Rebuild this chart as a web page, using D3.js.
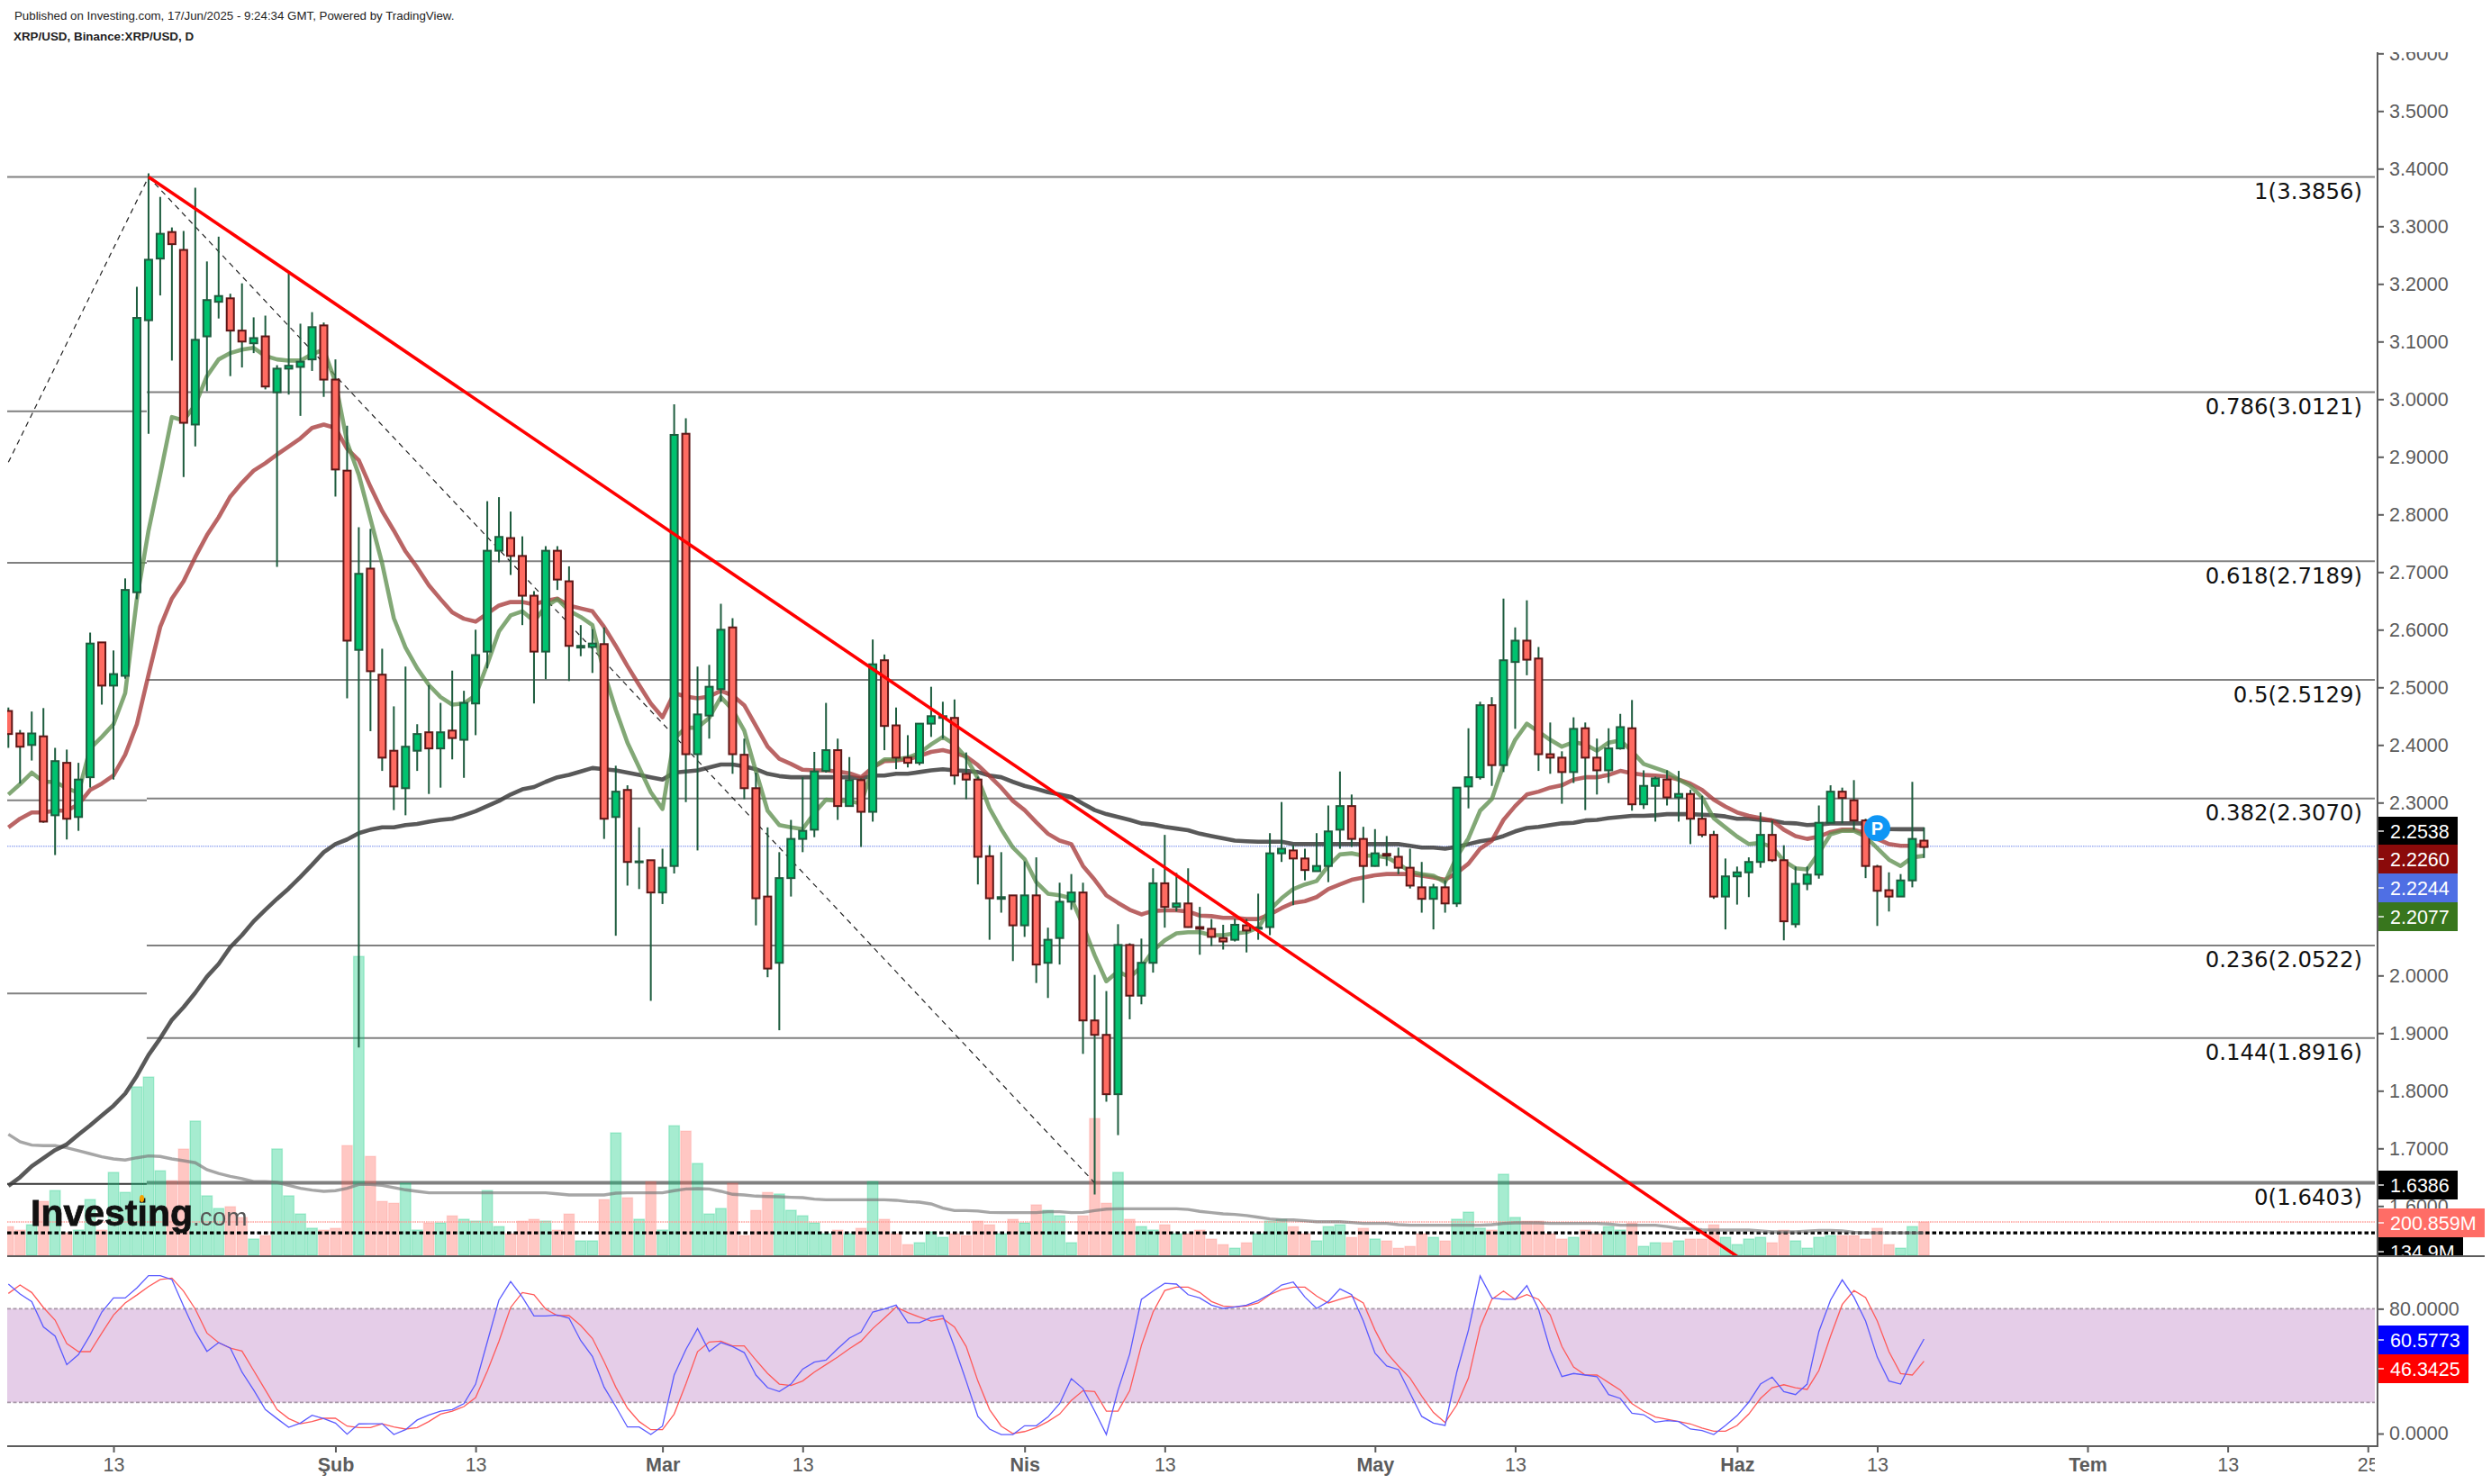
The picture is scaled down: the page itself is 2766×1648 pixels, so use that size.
<!DOCTYPE html>
<html>
<head>
<meta charset="utf-8">
<script src="https://cdn.jsdelivr.net/npm/d3@7"></script>
<style>
  body { margin: 0; background: #fff; }
  svg { display: block; font-family: "Liberation Sans", Arial, sans-serif; }
</style>
</head>
<body>
<div id="chart"></div>
<script>
const opens = [2.459,2.420,2.400,2.415,2.278,2.369,2.275,2.344,2.578,2.503,
  2.520,2.665,3.137,3.244,3.290,3.259,2.956,3.109,3.169,3.175,
  3.119,3.097,3.109,3.012,3.053,3.056,3.069,3.128,3.034,2.876,
  2.565,2.706,2.522,2.390,2.325,2.390,2.422,2.394,2.425,2.409,
  2.472,2.562,2.737,2.759,2.728,2.659,2.562,2.737,2.684,2.569,
  2.570,2.575,2.275,2.322,2.197,2.200,2.144,2.190,2.940,2.384,
  2.451,2.497,2.604,2.383,2.325,2.137,2.022,2.169,2.237,2.253,
  2.355,2.391,2.294,2.339,2.284,2.547,2.434,2.378,2.369,2.437,
  2.447,2.447,2.350,2.340,2.207,2.133,2.139,2.087,2.139,2.022,
  2.065,2.128,2.144,1.922,1.897,1.794,2.053,1.965,2.022,2.160,
  2.119,2.125,2.084,2.081,2.065,2.062,2.087,2.081,2.084,2.212,
  2.217,2.203,2.181,2.190,2.253,2.294,2.237,2.190,2.211,2.206,
  2.187,2.153,2.133,2.153,2.125,2.328,2.344,2.469,2.365,2.544,
  2.581,2.550,2.384,2.378,2.353,2.429,2.378,2.356,2.394,2.429,
  2.297,2.329,2.340,2.309,2.315,2.272,2.244,2.137,2.172,2.179,
  2.197,2.244,2.200,2.089,2.159,2.175,2.265,2.319,2.304,2.269,
  2.189,2.148,2.137,2.165,2.234];
const highs = [2.465,2.426,2.458,2.464,2.395,2.392,2.369,2.595,2.578,2.564,
  2.689,3.195,3.392,3.351,3.298,3.292,3.367,3.239,3.282,3.183,
  3.201,3.142,3.145,3.059,3.218,3.131,3.151,3.133,3.069,2.954,
  2.778,2.775,2.567,2.467,2.536,2.436,2.504,2.473,2.529,2.494,
  2.600,2.823,2.830,2.805,2.762,2.667,2.745,2.745,2.710,2.608,
  2.601,2.604,2.364,2.330,2.257,2.200,2.220,2.991,2.967,2.536,
  2.539,2.645,2.620,2.411,2.352,2.257,2.214,2.270,2.344,2.388,
  2.473,2.411,2.379,2.342,2.583,2.557,2.465,2.417,2.437,2.501,
  2.475,2.479,2.387,2.345,2.226,2.214,2.139,2.198,2.205,2.083,
  2.161,2.176,2.161,2.001,1.973,2.089,2.056,2.064,2.186,2.244,
  2.178,2.186,2.119,2.098,2.088,2.098,2.098,2.142,2.247,2.301,
  2.226,2.220,2.247,2.295,2.354,2.314,2.258,2.254,2.242,2.222,
  2.220,2.197,2.159,2.165,2.326,2.429,2.475,2.483,2.654,2.604,
  2.651,2.570,2.439,2.389,2.448,2.439,2.411,2.429,2.454,2.478,
  2.356,2.345,2.356,2.355,2.322,2.312,2.251,2.203,2.189,2.205,
  2.283,2.269,2.226,2.189,2.189,2.295,2.330,2.326,2.339,2.272,
  2.192,2.179,2.176,2.336,2.257];
const lows = [2.395,2.333,2.373,2.265,2.209,2.236,2.251,2.326,2.470,2.340,
  2.515,2.653,2.940,3.180,3.067,2.865,2.918,3.014,3.140,3.040,
  3.055,3.080,3.017,2.709,3.008,2.971,3.049,3.004,2.831,2.481,
  1.875,2.424,2.355,2.287,2.278,2.355,2.315,2.326,2.375,2.343,
  2.417,2.533,2.717,2.695,2.608,2.472,2.514,2.669,2.511,2.554,
  2.525,2.237,2.069,2.156,2.150,1.956,2.124,2.177,2.301,2.217,
  2.411,2.475,2.350,2.306,2.087,1.997,1.905,2.137,2.214,2.240,
  2.352,2.270,2.294,2.223,2.267,2.391,2.358,2.361,2.365,2.414,
  2.411,2.331,2.306,2.158,2.062,2.109,2.025,2.067,1.987,1.961,
  2.019,2.114,1.864,1.620,1.781,1.723,1.924,1.950,2.005,2.083,
  2.111,2.083,2.036,2.051,2.045,2.059,2.040,2.062,2.070,2.197,
  2.122,2.165,2.183,2.162,2.220,2.223,2.126,2.189,2.190,2.176,
  2.151,2.109,2.080,2.109,2.119,2.290,2.340,2.329,2.353,2.428,
  2.521,2.355,2.350,2.298,2.334,2.287,2.314,2.334,2.392,2.286,
  2.289,2.267,2.295,2.267,2.228,2.240,2.133,2.080,2.123,2.136,
  2.187,2.197,2.061,2.083,2.148,2.168,2.264,2.264,2.253,2.169,
  2.086,2.111,2.137,2.153,2.204];
const closes = [2.419,2.397,2.420,2.267,2.372,2.272,2.340,2.576,2.503,2.523,
  2.669,3.141,3.242,3.287,3.269,2.959,3.103,3.172,3.179,3.119,
  3.100,3.106,3.022,3.053,3.058,3.065,3.125,3.034,2.878,2.581,
  2.697,2.528,2.378,2.328,2.397,2.419,2.394,2.422,2.412,2.473,
  2.556,2.737,2.761,2.728,2.659,2.562,2.737,2.687,2.572,2.572,
  2.576,2.272,2.319,2.197,2.198,2.144,2.187,2.938,2.384,2.453,
  2.501,2.600,2.384,2.325,2.134,2.012,2.169,2.237,2.251,2.354,
  2.391,2.294,2.339,2.284,2.540,2.433,2.378,2.369,2.437,2.450,
  2.450,2.347,2.340,2.206,2.134,2.136,2.087,2.139,2.019,2.062,
  2.128,2.144,1.922,1.897,1.794,2.053,1.965,2.022,2.160,2.119,
  2.125,2.084,2.081,2.067,2.059,2.088,2.078,2.083,2.212,2.220,
  2.203,2.183,2.190,2.250,2.294,2.237,2.190,2.212,2.208,2.187,
  2.156,2.133,2.153,2.125,2.326,2.344,2.469,2.365,2.547,2.581,
  2.548,2.384,2.378,2.353,2.428,2.378,2.356,2.394,2.431,2.297,
  2.329,2.342,2.309,2.315,2.272,2.244,2.137,2.172,2.179,2.197,
  2.244,2.200,2.094,2.159,2.175,2.265,2.319,2.308,2.269,2.190,
  2.147,2.137,2.165,2.237,2.223];

const maFast = [2.314,2.332,2.352,2.336,2.336,2.325,2.317,2.394,2.414,2.436,
  2.490,2.653,2.772,2.869,2.969,2.963,2.990,3.040,3.069,3.080,
  3.086,3.089,3.075,3.069,3.067,3.067,3.078,3.086,3.030,2.925,
  2.869,2.792,2.715,2.620,2.569,2.533,2.504,2.483,2.470,2.472,
  2.486,2.540,2.597,2.625,2.632,2.615,2.640,2.653,2.633,2.622,
  2.608,2.526,2.461,2.404,2.361,2.318,2.289,2.411,2.430,2.430,
  2.447,2.483,2.461,2.425,2.354,2.286,2.261,2.257,2.254,2.282,
  2.305,2.303,2.303,2.298,2.361,2.375,2.375,2.378,2.386,2.401,
  2.414,2.401,2.378,2.342,2.290,2.254,2.222,2.202,2.162,2.142,
  2.139,2.134,2.087,2.035,1.990,2.007,1.997,2.015,2.043,2.061,
  2.073,2.075,2.075,2.070,2.070,2.073,2.075,2.083,2.114,2.134,
  2.150,2.158,2.164,2.190,2.210,2.212,2.208,2.208,2.205,2.194,
  2.180,2.176,2.173,2.162,2.206,2.238,2.286,2.306,2.365,2.409,
  2.437,2.423,2.409,2.397,2.405,2.401,2.390,2.404,2.408,2.389,
  2.367,2.360,2.353,2.340,2.329,2.309,2.273,2.257,2.241,2.228,
  2.230,2.223,2.199,2.186,2.184,2.213,2.245,2.251,2.251,2.241,
  2.221,2.201,2.190,2.205,2.2077];
const maMid = [2.257,2.272,2.283,2.283,2.286,2.286,2.297,2.322,2.333,2.347,
  2.383,2.436,2.522,2.605,2.654,2.684,2.726,2.764,2.795,2.831,
  2.855,2.876,2.889,2.904,2.918,2.932,2.950,2.956,2.950,2.914,
  2.894,2.848,2.806,2.772,2.736,2.708,2.677,2.653,2.630,2.619,
  2.614,2.628,2.642,2.648,2.648,2.644,2.650,2.654,2.642,2.637,
  2.632,2.605,2.572,2.537,2.504,2.472,2.448,2.490,2.484,2.481,
  2.484,2.494,2.486,2.469,2.433,2.397,2.376,2.367,2.357,2.356,
  2.356,2.354,2.351,2.344,2.361,2.372,2.373,2.375,2.381,2.388,
  2.391,2.386,2.380,2.365,2.346,2.326,2.303,2.287,2.266,2.246,
  2.234,2.228,2.190,2.166,2.139,2.126,2.114,2.106,2.112,2.113,
  2.113,2.111,2.104,2.103,2.100,2.100,2.098,2.098,2.106,2.117,
  2.126,2.129,2.136,2.150,2.158,2.166,2.170,2.174,2.176,2.176,
  2.176,2.173,2.170,2.166,2.178,2.194,2.220,2.234,2.270,2.294,
  2.314,2.319,2.326,2.330,2.340,2.344,2.344,2.348,2.355,2.351,
  2.348,2.347,2.345,2.340,2.333,2.322,2.305,2.293,2.283,2.277,
  2.273,2.269,2.253,2.242,2.237,2.241,2.249,2.253,2.253,2.247,
  2.237,2.228,2.225,2.225,2.226];
const maSlow = [1.635,1.650,1.669,1.683,1.697,1.707,1.724,1.740,1.757,1.774,
  1.795,1.826,1.862,1.891,1.923,1.945,1.970,1.998,2.020,2.049,
  2.070,2.094,2.114,2.133,2.151,2.171,2.192,2.214,2.228,2.236,
  2.247,2.253,2.257,2.257,2.261,2.263,2.267,2.270,2.272,2.278,
  2.285,2.294,2.303,2.314,2.323,2.327,2.336,2.344,2.348,2.354,
  2.360,2.358,2.356,2.352,2.348,2.344,2.340,2.352,2.354,2.356,
  2.361,2.366,2.366,2.363,2.358,2.350,2.346,2.344,2.344,2.344,
  2.344,2.344,2.344,2.342,2.347,2.347,2.350,2.350,2.353,2.356,
  2.358,2.356,2.355,2.353,2.347,2.344,2.336,2.329,2.324,2.318,
  2.314,2.310,2.298,2.287,2.280,2.275,2.270,2.264,2.262,2.258,
  2.255,2.252,2.246,2.242,2.238,2.234,2.233,2.232,2.232,2.232,
  2.228,2.228,2.228,2.228,2.228,2.228,2.228,2.228,2.228,2.228,
  2.225,2.222,2.222,2.220,2.223,2.228,2.233,2.236,2.242,2.250,
  2.256,2.258,2.261,2.264,2.265,2.269,2.270,2.273,2.275,2.277,
  2.277,2.278,2.280,2.280,2.280,2.279,2.278,2.276,2.272,2.272,
  2.270,2.269,2.265,2.264,2.261,2.262,2.264,2.264,2.264,2.264,
  2.259,2.254,2.2538,2.2538,2.2538];

// volume, millions
const volumes = [173,152,184,325,390,136,152,336,152,499,
  379,1014,1073,509,450,640,808,358,282,293,
  228,98,119,640,358,249,163,152,163,661,
  1799,596,325,314,434,152,195,195,238,217,
  206,390,173,130,206,217,206,152,249,87,
  87,336,737,347,217,444,152,780,748,553,
  249,282,434,119,271,379,369,271,238,195,
  130,152,130,163,444,217,130,65,76,141,
  108,130,119,206,184,130,217,195,304,271,
  238,76,238,824,314,499,217,173,152,184,
  130,130,152,98,65,43,76,130,206,217,
  173,130,87,173,184,108,163,98,87,43,
  54,130,108,87,217,260,163,152,488,228,
  206,206,130,98,108,152,130,173,152,195,
  54,76,76,87,98,98,184,108,65,98,
  108,76,152,87,43,108,119,119,119,98,
  163,65,43,173,200.859];
const volumeAvg = [728,683,663,660,660,647,629,611,593,580,
  573,587,598,595,580,569,557,515,493,475,
  461,443,443,439,421,403,392,385,389,403,
  426,426,421,407,394,385,376,376,376,376,
  376,376,376,376,376,376,376,370,363,363,
  363,363,374,376,376,376,376,389,399,401,
  399,385,367,363,356,354,352,349,347,338,
  334,334,334,334,334,334,331,323,320,309,
  284,269,269,266,258,257,257,257,257,262,
  262,257,258,269,278,280,280,280,280,280,
  280,276,264,257,249,246,239,229,219,213,
  213,208,202,202,202,197,192,192,192,184,
  181,181,181,181,181,181,181,184,192,195,
  195,195,192,192,192,192,192,188,181,181,
  181,181,173,161,159,154,152,152,152,152,
  146,141,141,141,145,150,150,146,139,135,
  135,135,135,135,134.9];

const stochK = [95.8,89.4,84.6,68.3,62.5,44.2,50.6,63.1,77.9,86.9,
  86.9,93.3,101.2,101.2,98.7,81.7,65.4,52.7,58.3,54.8,
  39.4,27.9,15.4,9.6,4.0,6.7,11.7,9.6,6.7,-0.4,
  6.2,6.3,6.3,-0.6,2.5,8.7,11.9,14.4,15.4,19.2,
  31.7,58.7,85.6,97.5,87.5,75.4,75.4,76.0,74.0,59.6,
  49.4,29.8,17.3,4.2,4.2,-0.6,4.8,37.5,53.8,67.3,
  52.7,58.3,55.8,51.9,37.5,29.4,26.9,31.7,41.3,45.8,
  47.1,54.4,61.2,65.0,77.9,79.8,82.3,71.0,71.0,74.4,
  75.6,55.4,33.7,11.0,2.9,-0.6,-0.6,5.0,5.0,10.6,
  19.2,35.2,28.8,14.4,-0.6,27.9,51.0,86.0,91.3,96.3,
  95.8,89.0,86.9,82.3,80.2,81.2,82.3,85.2,89.4,95.2,
  97.1,87.5,80.2,84.6,92.7,89.0,72.1,51.5,43.3,41.0,
  26.0,11.0,6.7,5.2,39.4,66.3,101.0,86.9,86.0,86.0,
  94.8,79.8,53.8,36.5,38.5,37.5,36.5,25.0,22.5,13.1,
  12.1,7.3,8.3,7.7,2.9,1.9,-0.6,5.2,11.5,20.2,
  31.7,36.2,26.9,25.0,31.7,65.4,85.6,98.5,87.5,72.1,
  49.0,33.7,31.7,47.1,60.5773];
const stochD = [89.8,95.2,90.4,80.8,72.7,57.7,52.5,52.5,64.4,76.0,
  83.7,88.8,94.2,98.7,99.6,91.3,79.8,64.4,58.3,54.8,
  52.9,40.4,27.9,15.4,9.6,6.3,7.7,9.8,9.8,4.8,
  3.8,3.8,6.3,4.2,2.9,3.8,7.7,12.5,14.4,17.3,
  23.1,40.0,59.2,80.8,90.4,89.0,79.8,75.6,75.6,69.2,
  61.0,46.2,29.8,16.3,7.7,2.5,2.5,12.5,31.7,52.5,
  58.7,59.2,56.2,56.2,47.1,38.5,31.7,30.8,33.7,39.4,
  44.2,49.0,54.4,59.2,67.3,74.0,81.0,77.5,74.6,72.1,
  73.7,68.3,55.8,33.7,15.4,4.8,0,1.3,3.8,7.7,
  12.5,21.2,27.5,26.9,14.4,14.4,27.5,56.5,77.9,91.7,
  93.8,93.8,90.4,84.6,81.7,81.2,81.7,83.7,89.0,92.3,
  93.8,93.8,88.1,83.7,86.0,88.1,83.7,66.3,51.9,43.3,
  35.6,24.0,13.5,7.1,18.3,35.6,68.3,86.0,91.3,86.0,
  89.0,86.0,76.0,55.8,42.7,37.5,37.5,32.7,27.9,19.2,
  14.4,10.6,9.2,7.7,6.2,3.5,1.5,1.5,5.2,12.5,
  22.5,29.4,31.3,29.4,28.3,40.4,62.5,82.7,91.7,87.1,
  72.1,52.5,38.5,37.5,46.3425];

const fibRatios = ['1', '0.786', '0.618', '0.5', '0.382', '0.236', '0.144', '0'];
const fibPrices = [3.3856, 3.0121, 2.7189, 2.5129, 2.3070, 2.0522, 1.8916, 1.6403];
const priorFibPrices = [2.979, 2.716, 2.304, 1.969];
const priorFibBase = 1.6385;

const priceTicks = d3.range(16, 37).map(v => v / 10);
const stochTicks = [0, 80];
const timeTickDates = ['2025-01-13','2025-02-01','2025-02-13','2025-03-01','2025-03-13','2025-04-01',
  '2025-04-13','2025-05-01','2025-05-13','2025-06-01','2025-06-13','2025-07-01','2025-07-13','2025-07-25'];
const timeTickLabels = ['13','Şub','13','Mar','13','Nis','13','May','13','Haz','13','Tem','13','25'];
const monthLabels = ['Şub','Mar','Nis','May','Haz','Tem'];

const firstDay = new Date(Date.UTC(2025, 0, 4));
const lastDay = new Date(Date.UTC(2025, 5, 17));
const peakDay = new Date(Date.UTC(2025, 0, 16));
const peakPrice = 3.3856;
const fibLeftDay = firstDay, fibLeftPrice = 2.8906;
const fibLowDay = new Date(Date.UTC(2025, 3, 7)), fibLowPrice = 1.6403;
const trendEndDay = new Date(Date.UTC(2025, 5, 1)), trendEndPrice = 1.5127;
const lastPriceLine = 2.2244, volumeLastLine = 200.859, volumeAvgLine = 134.9;
const pivotDay = new Date(Date.UTC(2025, 5, 13)), pivotPrice = 2.2555;

const width = 2766, height = 1648;
const plotLeft = 8, plotRight = 2637, axisX = 2640;
const paneTop = 58, paneBottom = 1395, timeY = 1606;

const candles = opens.map((o, i) => ({
  date: d3.utcDay.offset(firstDay, i), open: o, high: highs[i], low: lows[i], close: closes[i],
  volume: volumes[i], up: closes[i] >= o
}));

const x = d3.scaleUtc().domain([firstDay, lastDay]).range([9.3, 2136.4]);
const y = d3.scaleLinear().domain([1.6, 3.6]).range([1339.3, 59.3]);
const yVol = d3.scaleLinear().domain([0, 1800]).range([1394, 1394 - 332.1]);
const yStoch = d3.scaleLinear().domain([0, 100]).range([1592, 1418.7]);

const svg = d3.select('#chart').append('svg')
  .attr('width', width).attr('height', height).attr('viewBox', `0 0 ${width} ${height}`);

const defs = svg.append('defs');
defs.append('clipPath').attr('id', 'pane').append('rect')
  .attr('x', plotLeft).attr('y', paneTop).attr('width', plotRight - plotLeft).attr('height', paneBottom - paneTop);
defs.append('clipPath').attr('id', 'time').append('rect')
  .attr('x', 0).attr('y', timeY).attr('width', plotRight).attr('height', height - timeY);
defs.append('clipPath').attr('id', 'scale').append('rect')
  .attr('x', axisX - 2).attr('y', paneTop).attr('width', width - axisX + 2).attr('height', paneBottom - paneTop);

svg.append('text').attr('x', 16).attr('y', 22).attr('font-size', 13.3).attr('fill', '#222')
  .text('Published on Investing.com, 17/Jun/2025 - 9:24:34 GMT, Powered by TradingView.');
svg.append('text').attr('x', 15).attr('y', 45).attr('font-size', 13.4).attr('font-weight', 'bold').attr('fill', '#222')
  .text('XRP/USD, Binance:XRP/USD, D');

const pane = svg.append('g').attr('clip-path', 'url(#pane)');

// fib lines
const fibStart = x(peakDay) - 2;
pane.selectAll('.prior').data(priorFibPrices).join('line')
  .attr('x1', plotLeft).attr('x2', fibStart).attr('y1', d => y(d)).attr('y2', d => y(d))
  .attr('stroke', '#808080').attr('stroke-width', 2);
pane.append('line').attr('x1', plotLeft).attr('x2', fibStart).attr('y1', y(priorFibBase)).attr('y2', y(priorFibBase))
  .attr('stroke', '#333').attr('stroke-width', 2);
pane.selectAll('.fib').data(fibPrices).join('line')
  .attr('x1', (d, i) => i === 0 ? plotLeft : fibStart).attr('x2', plotRight)
  .attr('y1', d => y(d)).attr('y2', d => y(d))
  .attr('stroke', '#808080').attr('stroke-width', (d, i) => i === fibPrices.length - 1 ? 4 : 2);

pane.append('line').attr('x1', plotLeft).attr('x2', plotRight)
  .attr('y1', y(lastPriceLine)).attr('y2', y(lastPriceLine))
  .attr('stroke', '#9fb0f2').attr('stroke-width', 1.5).attr('stroke-dasharray', '1.5 1');

// volume
pane.selectAll('.vol').data(candles).join('rect')
  .attr('x', d => x(d.date) - 5.8).attr('width', 11.6)
  .attr('y', d => yVol(d.volume)).attr('height', d => yVol(0) - yVol(d.volume))
  .attr('fill', d => d.up ? 'rgba(0,200,120,0.35)' : 'rgba(255,90,80,0.34)')
  .attr('stroke', d => d.up ? 'rgba(0,200,120,0.25)' : 'rgba(255,90,80,0.15)')
  .attr('stroke-width', 1.4);
pane.append('line').attr('x1', plotLeft).attr('x2', plotRight)
  .attr('y1', yVol(volumeLastLine)).attr('y2', yVol(volumeLastLine))
  .attr('stroke', '#ff9d98').attr('stroke-width', 1.5).attr('stroke-dasharray', '1.5 1');
pane.append('line').attr('x1', plotLeft).attr('x2', plotRight)
  .attr('y1', yVol(volumeAvgLine)).attr('y2', yVol(volumeAvgLine))
  .attr('stroke', '#000').attr('stroke-width', 3.4).attr('stroke-dasharray', '4.5 3');

const lineFor = scale => d3.line().x((d, i) => x(candles[i].date)).y(d => scale(d));
pane.append('path').datum(volumeAvg).attr('d', lineFor(yVol)).attr('fill', 'none')
  .attr('stroke', '#777').attr('stroke-width', 3.4).attr('stroke-opacity', 0.65);

// logo
const logo = pane.append('g').style('filter', 'blur(0.6px)');
logo.append('text').attr('x', 34).attr('y', 1361).attr('font-size', 41).attr('font-weight', 'bold')
  .attr('fill', '#111').attr('stroke', '#111').attr('stroke-width', 0.8).text('Investing');
logo.append('text').attr('x', 214).attr('y', 1361).attr('font-size', 28).attr('fill', '#555').text('.com');
logo.append('ellipse').attr('cx', 157.5).attr('cy', 1331).attr('rx', 2.5).attr('ry', 4).attr('fill', '#f5a300');

// dashed fib diagonal
pane.append('path')
  .datum([[fibLeftDay, fibLeftPrice], [peakDay, peakPrice], [fibLowDay, fibLowPrice]])
  .attr('d', d3.line().x(d => x(d[0])).y(d => y(d[1])))
  .attr('fill', 'none').attr('stroke', '#222').attr('stroke-width', 1.2).attr('stroke-dasharray', '6 5');

[[maSlow, '#3c3c3c', 4.6, 0.85], [maMid, '#a63a3a', 4.6, 0.78], [maFast, '#5f9050', 4.6, 0.78]].forEach(([s, c, w, o]) => {
  pane.append('path').datum(s).attr('d', lineFor(y)).attr('fill', 'none')
    .attr('stroke', c).attr('stroke-width', w).attr('stroke-opacity', o).attr('stroke-linejoin', 'round');
});

// candles
pane.selectAll('.wick').data(candles).join('line')
  .attr('x1', d => x(d.date)).attr('x2', d => x(d.date))
  .attr('y1', d => y(d.high)).attr('y2', d => y(d.low))
  .attr('stroke', '#1d5c3e').attr('stroke-width', 2);
pane.selectAll('.body').data(candles).join('rect')
  .attr('x', d => x(d.date) - 4).attr('width', 8)
  .attr('y', d => y(Math.max(d.open, d.close)))
  .attr('height', d => Math.max(1, Math.abs(y(d.open) - y(d.close))))
  .attr('fill', d => d.up ? '#00c26f' : '#ff6b61')
  .attr('stroke', d => d.up ? '#1d5c3e' : '#5e1616').attr('stroke-width', 2);

// down trend
pane.append('path').datum([[peakDay, peakPrice], [trendEndDay, trendEndPrice]])
  .attr('d', d3.line().x(d => x(d[0])).y(d => y(d[1])))
  .attr('fill', 'none').attr('stroke', '#ff0000').attr('stroke-width', 3.6);

// pivot marker
const pivot = svg.append('g').attr('transform', `translate(${x(pivotDay)},${y(pivotPrice)})`);
pivot.append('circle').attr('r', 14.5).attr('fill', '#0f96f5');
pivot.append('text').attr('text-anchor', 'middle').attr('dy', '0.36em').attr('font-size', 20)
  .attr('font-weight', 'bold').attr('fill', '#fff').text('P');

// fib labels
svg.selectAll('.fiblabel').data(fibPrices).join('text')
  .attr('x', 2623).attr('y', d => y(d) + 24.5).attr('text-anchor', 'end')
  .style('font-family', '"DejaVu Sans", sans-serif').attr('font-size', 24.4).attr('fill', '#111')
  .text((d, i) => `${fibRatios[i]}(${d.toFixed(4)})`);

// stochastic pane
const stoch = svg.append('g');
stoch.append('rect').attr('x', plotLeft).attr('width', plotRight - plotLeft)
  .attr('y', yStoch(80)).attr('height', yStoch(20) - yStoch(80)).attr('fill', '#e5cde8');
[80, 20].forEach(v => stoch.append('line').attr('x1', plotLeft).attr('x2', plotRight)
  .attr('y1', yStoch(v)).attr('y2', yStoch(v))
  .attr('stroke', '#a898a8').attr('stroke-width', 1.6).attr('stroke-dasharray', '4 2.5'));
stoch.append('path').datum(stochD).attr('d', lineFor(yStoch)).attr('fill', 'none')
  .attr('stroke', '#ff5a5a').attr('stroke-width', 1.3);
stoch.append('path').datum(stochK).attr('d', lineFor(yStoch)).attr('fill', 'none')
  .attr('stroke', '#5a5aff').attr('stroke-width', 1.3);

// axes
const styleAxis = g => {
  g.select('.domain').remove();
  g.selectAll('line').attr('stroke', '#5c5c5c').attr('stroke-width', 2);
  g.selectAll('text').attr('fill', '#5c5c5c').attr('font-size', 21.5).style('font-family', '"Liberation Sans", Arial, sans-serif');
};
const scaleClip = svg.append('g').attr('clip-path', 'url(#scale)');
scaleClip.append('g').attr('transform', `translate(${axisX},0)`)
  .call(d3.axisRight(y).tickValues(priceTicks).tickFormat(d3.format('.4f')).tickSize(7).tickPadding(6))
  .call(styleAxis);
svg.append('g').attr('transform', `translate(${axisX},0)`)
  .call(d3.axisRight(yStoch).tickValues(stochTicks).tickFormat(d3.format('.4f')).tickSize(7).tickPadding(6))
  .call(styleAxis);

const timeAxis = svg.append('g').attr('clip-path', 'url(#time)').append('g')
  .attr('transform', `translate(0,${timeY})`)
  .call(d3.axisBottom(x)
    .tickValues(timeTickDates.map(d => new Date(d + 'T00:00:00Z')))
    .tickFormat((d, i) => timeTickLabels[i]).tickSize(7).tickPadding(6))
  .call(styleAxis);
timeAxis.selectAll('text').attr('font-weight', (d, i) => monthLabels.includes(timeTickLabels[i]) ? 'bold' : 'normal');

// last value tags
const tag = (cy, label, color, w, clip) => {
  const g = (clip || svg).append('g');
  g.append('rect').attr('x', axisX - 1).attr('y', cy - 16).attr('width', w).attr('height', 32).attr('fill', color);
  g.append('line').attr('x1', axisX).attr('x2', axisX + 7).attr('y1', cy).attr('y2', cy).attr('stroke', '#fff').attr('stroke-opacity', 0.7).attr('stroke-width', 2);
  g.append('text').attr('x', axisX + 14).attr('y', cy).attr('dy', '0.36em').attr('font-size', 21.5).attr('fill', '#fff').text(label);
};
tag(923, '2.2538', '#000000', 90);
tag(954, '2.2260', '#8b0a0a', 90);
tag(986, '2.2244', '#4f6fe4', 90);
tag(1018, '2.2077', '#38761d', 90);
tag(1316, '1.6386', '#000000', 90);
tag(1390, '134.9M', '#000000', 96, scaleClip);
tag(1358, '200.859M', '#ff6d66', 120);
tag(1488, '60.5773', '#0000ff', 102);
tag(1520, '46.3425', '#ff0000', 102);

// pane frame
svg.append('line').attr('x1', axisX).attr('x2', axisX).attr('y1', paneTop).attr('y2', timeY + 1)
  .attr('stroke', '#5c5c5c').attr('stroke-width', 2);
svg.append('line').attr('x1', plotLeft).attr('x2', 2759).attr('y1', paneBottom).attr('y2', paneBottom)
  .attr('stroke', '#5c5c5c').attr('stroke-width', 2);
svg.append('line').attr('x1', plotLeft).attr('x2', axisX).attr('y1', timeY).attr('y2', timeY)
  .attr('stroke', '#5c5c5c').attr('stroke-width', 2);
</script>
</body>
</html>
